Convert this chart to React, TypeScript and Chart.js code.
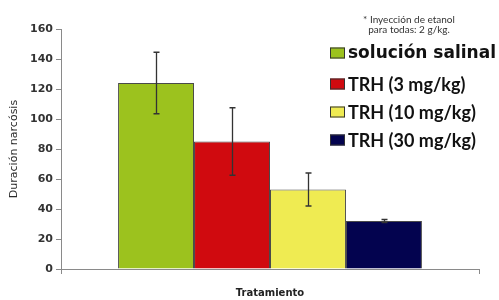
import React, { useEffect, useRef } from "react";
import { Chart, registerables } from "chart.js";

Chart.register(...registerables);

const categories = ["solución salinal", "TRH (3 mg/kg)", "TRH (10 mg/kg)", "TRH (30 mg/kg)"];
const means = [124, 85, 53, 32];
const errors = [20.5, 22.5, 11, 1];
const colors = ["#9CC21E", "#D00A0F", "#EFEB52", "#03034F"];
const xLabels = [""];
const yTitle = "Duración narcósis";
const xTitle = "Tratamiento";
const noteLines = ["* Inyección de etanol", "para todas: 2 g/kg."];

const errorBarPlugin = {
  id: "errorBars",
  afterDatasetsDraw(chart: any) {
    const { ctx } = chart;
    const yScale = chart.scales.y;
    ctx.save();
    ctx.strokeStyle = "#333";
    ctx.lineWidth = 1.3;
    chart.data.datasets.forEach((ds: any, i: number) => {
      const meta = chart.getDatasetMeta(i);
      meta.data.forEach((el: any, j: number) => {
        const v = ds.data[j];
        const e = errors[i];
        const x = Math.round(el.x) + 0.5;
        const yTop = yScale.getPixelForValue(v + e);
        const yBot = yScale.getPixelForValue(v - e);
        ctx.beginPath();
        ctx.moveTo(x, yTop);
        ctx.lineTo(x, yBot);
        ctx.moveTo(x - 3, yTop);
        ctx.lineTo(x + 3, yTop);
        ctx.moveTo(x - 3, yBot);
        ctx.lineTo(x + 3, yBot);
        ctx.stroke();
      });
    });
    ctx.restore();
  },
};

const legendPlugin = {
  id: "customLegend",
  afterDraw(chart: any) {
    const { ctx } = chart;
    ctx.save();
    ctx.fillStyle = "#333";
    ctx.textAlign = "center";
    ctx.textBaseline = "middle";
    ctx.font = "10px Lato";
    ctx.fillText(noteLines[0], 409, 20);
    ctx.fillText(noteLines[1], 409, 30);

    const rows = [53, 84, 112, 140];
    categories.forEach((label, i) => {
      const cy = rows[i];
      ctx.fillStyle = colors[i];
      ctx.fillRect(330, cy - 5.5, 15, 11);
      ctx.strokeStyle = "#333";
      ctx.lineWidth = 1;
      ctx.strokeRect(330.5, cy - 5, 14, 10);
      ctx.fillStyle = "#111";
      ctx.textAlign = "left";
      ctx.font = i === 0 ? "bold 17px 'DejaVu Sans'" : "bold 18px Lato";
      ctx.fillText(label, 348, cy + 1);
    });
    ctx.restore();
  },
};

export default function App() {
  const ref = useRef<HTMLCanvasElement | null>(null);
  useEffect(() => {
    document.body.style.margin = "0";
    const canvas = ref.current!;
    const chart = new Chart(canvas, {
      type: "bar",
      data: {
        labels: xLabels,
        datasets: categories.map((c, i) => ({
          label: c,
          data: [means[i]],
          backgroundColor: colors[i],
          borderColor: "#4a4a4a",
          borderWidth: 1,
          categoryPercentage: 0.727,
          barPercentage: 1,
        })),
      },
      options: {
        responsive: false,
        animation: false,
        layout: { padding: { top: 29, right: 20, left: 0, bottom: 0 } },
        plugins: { legend: { display: false }, tooltip: { enabled: false } },
        scales: {
          x: {
            grid: { drawOnChartArea: false, drawTicks: true, tickLength: 5, color: "#8a8a8a" },
            border: { display: true, color: "#8a8a8a" },
            ticks: { display: false },
            title: {
              display: true,
              text: xTitle,
              color: "#222",
              font: { family: "'DejaVu Sans'", size: 10, weight: "bold" },
              padding: { top: 0, bottom: 1 },
            },
            afterFit(scale: any) {
              scale.height = 31;
            },
          },
          y: {
            min: 0,
            max: 160,
            ticks: {
              stepSize: 20,
              color: "#333",
              padding: 3,
              font: { family: "'DejaVu Sans'", size: 11, weight: "bold" },
            },
            grid: { drawOnChartArea: false, drawTicks: true, tickLength: 5, color: "#8a8a8a" },
            border: { display: true, color: "#8a8a8a" },
            title: {
              display: true,
              text: yTitle,
              color: "#2a2a2a",
              font: { family: "'DejaVu Sans'", size: 11, weight: "500" },
              padding: { top: 8, bottom: 0 },
            },
            afterFit(scale: any) {
              scale.width = 61;
            },
          },
        },
      },
      plugins: [errorBarPlugin, legendPlugin],
    } as any);
    return () => chart.destroy();
  }, []);
  return (
    <div style={{ width: 499, height: 300 }}>
      <canvas ref={ref} width={499} height={300} />
    </div>
  );
}
